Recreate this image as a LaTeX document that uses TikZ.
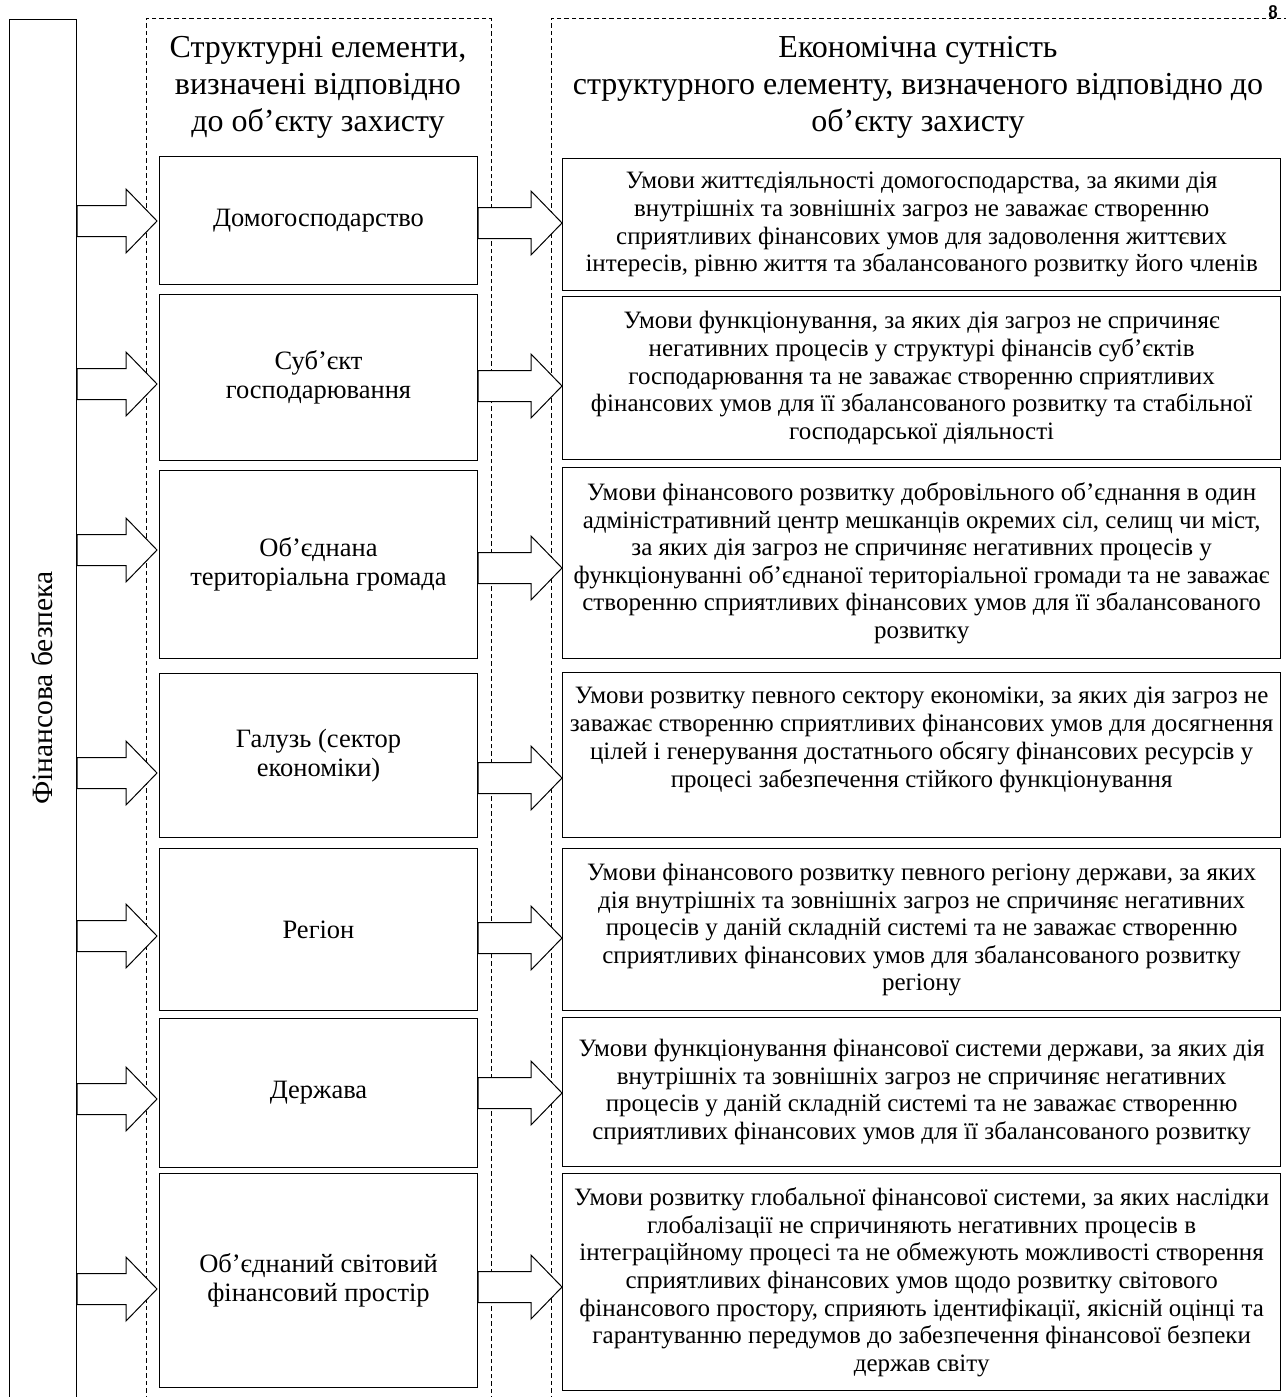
\documentclass[tikz,border=0pt]{standalone}
\usepackage{fontspec}
\setmainfont{Liberation Serif}
\usetikzlibrary{calc}

% block arrow from the x of #1 to the tip #2
\newcommand{\blockarrow}[2]{%
  \draw[blockarrow] let \p1=(#1), \p2=(#2) in
    (\x1,\y2+15.5pt) -- (\x2-31pt,\y2+15.5pt) -- (\x2-31pt,\y2+32pt) -- (\x2,\y2)
    -- (\x2-31pt,\y2-32pt) -- (\x2-31pt,\y2-15.5pt) -- (\x1,\y2-15.5pt) -- cycle;}

\begin{document}
\begin{tikzpicture}[x=1pt,y=-1pt,
  frame/.style={draw, line width=0.9pt, dash pattern=on 4.5pt off 3pt, inner sep=0pt, anchor=north west},
  barbox/.style={draw, line width=1pt, inner sep=0pt, anchor=north west},
  midbox/.style={draw, line width=1pt, minimum width=318pt, align=center, anchor=north west,
    inner sep=0pt, font=\fontsize{26.5}{29}\selectfont},
  descbox/.style={draw, line width=1.3pt, minimum width=718pt, align=center, anchor=north west,
    inner sep=0pt, font=\fontsize{25}{27.6}\selectfont},
  desctext/.style={align=center, inner sep=0pt, font=\fontsize{25}{27.8}\selectfont},
  blockarrow/.style={draw, fill=white, line width=1pt, line join=miter},
  header/.style={align=center, inner sep=0pt, font=\fontsize{32}{37}\selectfont}
]
\useasboundingbox (0,0) rectangle (1285,1397);

% side bar and the two dashed columns
\node[barbox, minimum width=67pt, minimum height=1420pt] (bar) at (9,19) {};
\node[rotate=90, font=\fontsize{29.5}{32}\selectfont] (bartext) at (42,688) {Фінансова безпека};
\node[frame, minimum width=345pt, minimum height=1420pt] (colA) at (146,18) {};
\node[frame, minimum width=750pt, minimum height=1420pt] (colB) at (551,18) {};
\node[font=\sffamily\bfseries\fontsize{18}{18}\selectfont, inner sep=0pt] (pg) at (1273,12) {8};

% column headings
\node[header] (hA) at (318,87) {Структурні елементи,\\визначені відповідно\\до об’єкту захисту};
\node[header] (hB) at (918,87) {Економічна сутність\\структурного елементу, визначеного відповідно до\\об’єкту захисту};

% structural elements
\node[midbox, minimum height=128pt] (m1) at (159,156) {Домогосподарство};
\node[midbox, minimum height=166pt] (m2) at (159,294) {Суб’єкт\\господарювання};
\node[midbox, minimum height=188pt] (m3) at (159,470) {Об’єднана\\територіальна громада};
\node[midbox, minimum height=164pt] (m4) at (159,673) {Галузь (сектор\\економіки)};
\node[midbox, minimum height=162pt] (m5) at (159,848) {Регіон};
\node[midbox, minimum height=149pt] (m6) at (159,1018) {Держава};
\node[midbox, minimum height=214pt] (m7) at (159,1173) {Об’єднаний світовий\\фінансовий простір};

% economic essence of each element
\node[descbox, minimum height=132pt] (d1) at (562,158) {Умови життєдіяльності домогосподарства, за якими дія\\внутрішніх та зовнішніх загроз не заважає створенню\\сприятливих фінансових умов для задоволення життєвих\\інтересів, рівню життя та збалансованого розвитку його членів};
\node[descbox, minimum height=163pt] (d2) at (562,296) {Умови функціонування, за яких дія загроз не спричиняє\\негативних процесів у структурі фінансів суб’єктів\\господарювання та не заважає створенню сприятливих\\фінансових умов для її збалансованого розвитку та стабільної\\господарської діяльності};
\node[descbox, minimum height=191pt] (d3) at (562,467) {Умови фінансового розвитку добровільного об'єднання в один\\адміністративний центр мешканців окремих сіл, селищ чи міст,\\за яких дія загроз не спричиняє негативних процесів у\\функціонуванні об’єднаної територіальної громади та не заважає\\створенню сприятливих фінансових умов для її збалансованого\\розвитку};
\node[descbox, minimum height=165pt] (d4) at (562,672) {};
\node[desctext, anchor=north] (d4t) at ($(d4.north)+(0,15)$) {Умови розвитку певного сектору економіки, за яких дія загроз не\\заважає створенню сприятливих фінансових умов для досягнення\\цілей і генерування достатнього обсягу фінансових ресурсів у\\процесі забезпечення стійкого функціонування};
\node[descbox, minimum height=162pt] (d5) at (562,848) {Умови фінансового розвитку певного регіону держави, за яких\\дія внутрішніх та зовнішніх загроз не спричиняє негативних\\процесів у даній складній системі та не заважає створенню\\сприятливих фінансових умов для збалансованого розвитку\\регіону};
\node[descbox, minimum height=149pt] (d6) at (562,1017) {Умови функціонування фінансової системи держави, за яких дія\\внутрішніх та зовнішніх загроз не спричиняє негативних\\процесів у даній складній системі та не заважає створенню\\сприятливих фінансових умов для її збалансованого розвитку};
\node[descbox, minimum height=217pt] (d7) at (562,1173) {Умови розвитку глобальної фінансової системи, за яких наслідки\\глобалізації не спричиняють негативних процесів в\\інтеграційному процесі та не обмежують можливості створення\\сприятливих фінансових умов щодо розвитку світового\\фінансового простору, сприяють ідентифікації, якісній оцінці та\\гарантуванню передумов до забезпечення фінансової безпеки\\держав світу};

% arrow tips on the left of each element box
\coordinate (t1) at ([xshift=-2pt]m1.west |- 0,221);
\coordinate (t2) at ([xshift=-2pt]m2.west |- 0,384);
\coordinate (t3) at ([xshift=-2pt]m3.west |- 0,550);
\coordinate (t4) at ([xshift=-2pt]m4.west |- 0,773);
\coordinate (t5) at ([xshift=-2pt]m5.west |- 0,936);
\coordinate (t6) at ([xshift=-2pt]m6.west |- 0,1099);
\coordinate (t7) at ([xshift=-2pt]m7.west |- 0,1289);
% arrow tips on the left of each essence box
\coordinate (s1) at (d1.west |- 0,223);
\coordinate (s2) at (d2.west |- 0,386);
\coordinate (s3) at (d3.west |- 0,568);
\coordinate (s4) at (d4.west |- 0,778);
\coordinate (s5) at (d5.west |- 0,938);
\coordinate (s6) at (d6.west |- 0,1093);
\coordinate (s7) at (d7.west |- 0,1287);

\foreach \i in {1,...,7}{
  \blockarrow{bar.east}{t\i}
  \blockarrow{m\i.east}{s\i}
}
\end{tikzpicture}
\end{document}
